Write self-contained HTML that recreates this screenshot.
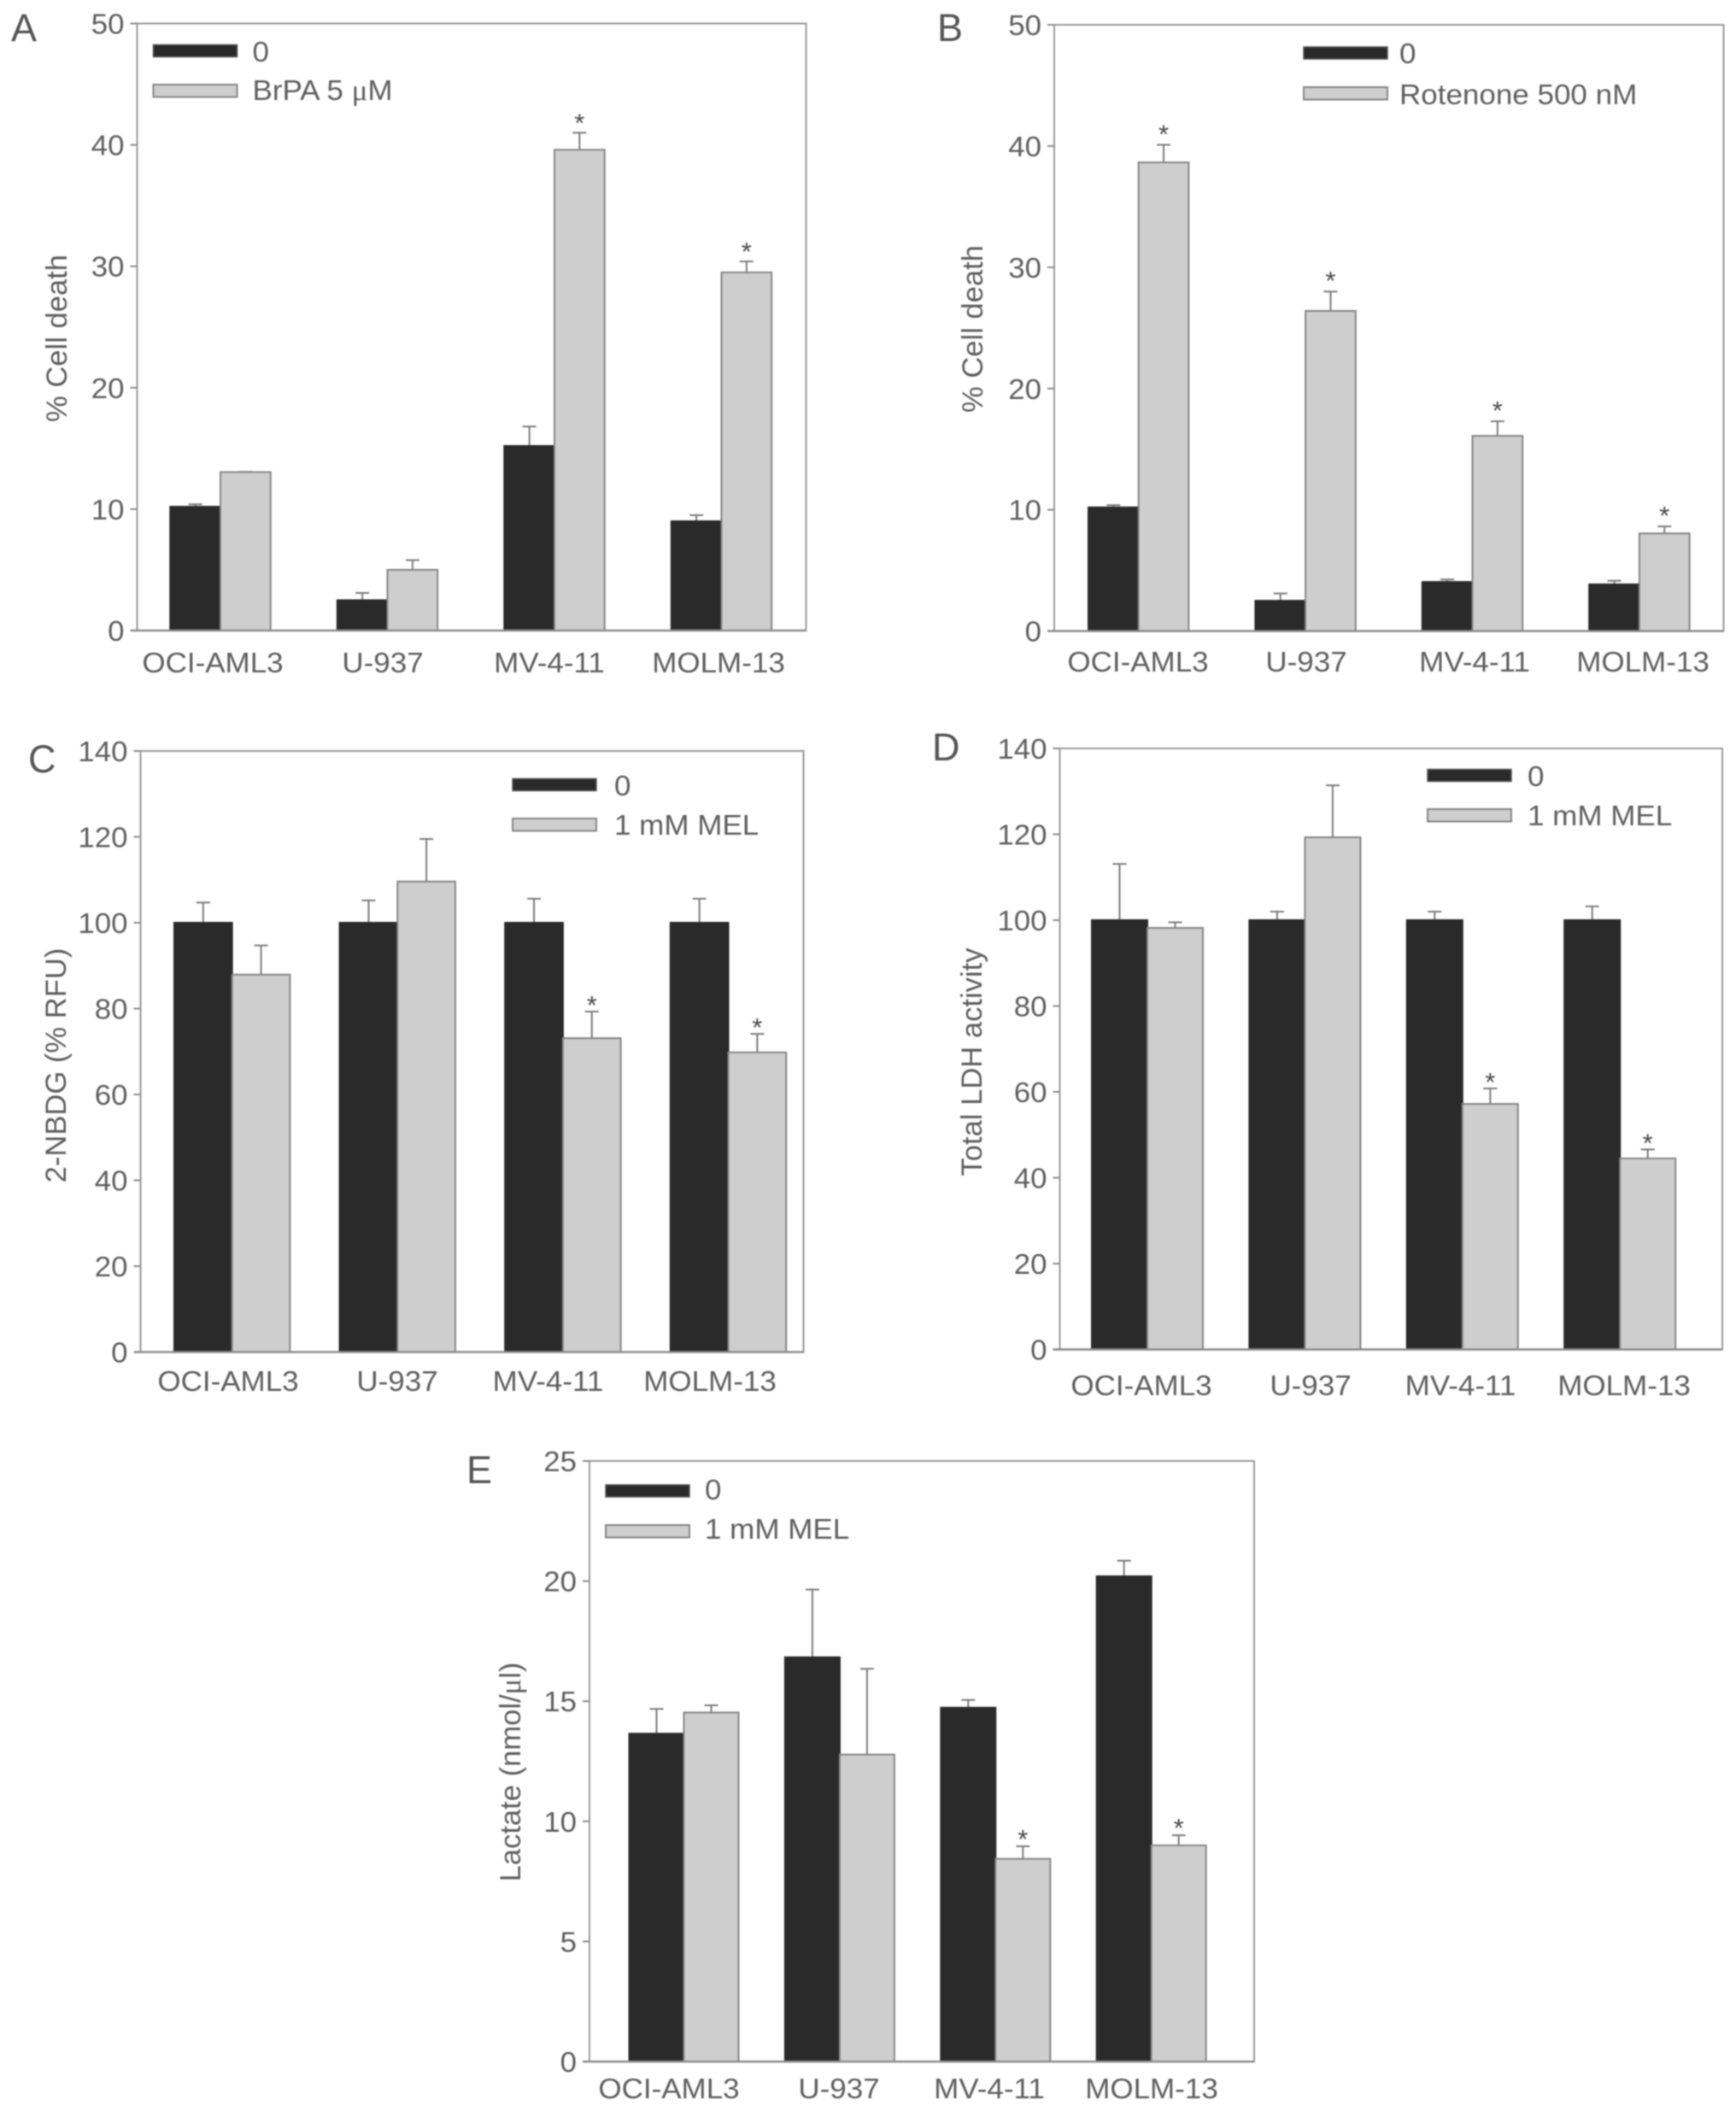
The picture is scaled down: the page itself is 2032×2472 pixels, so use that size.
<!DOCTYPE html>
<html lang="en">
<head>
<meta charset="utf-8">
<title>Cell death, glucose uptake, LDH and lactate bar charts</title>
<style>
html,body{margin:0;padding:0;background:#fff;width:2032px;height:2472px;overflow:hidden}
svg{display:block;filter:blur(0.7px)}
text{font-family:"Liberation Sans",sans-serif;fill:#5f5f5f}
</style>
</head>
<body>
<svg id="figure" xmlns="http://www.w3.org/2000/svg" width="2032" height="2472" viewBox="0 0 2032 2472"></svg>
<script>
const categories = ['OCI-AML3', 'U-937', 'MV-4-11', 'MOLM-13'];

const aControl = [10.2, 2.5, 15.2, 9.0];
const aControlErr = [0.2, 0.6, 1.6, 0.5];
const aTreated = [13.05, 5.0, 39.6, 29.5];
const aTreatedErr = [0.02, 0.8, 1.4, 0.9];
const aStars = [false, false, true, true];
const aTicks = [0, 10, 20, 30, 40, 50];

const bControl = [10.2, 2.5, 4.05, 3.85];
const bControlErr = [0.18, 0.6, 0.2, 0.3];
const bTreated = [38.65, 26.4, 16.1, 8.05];
const bTreatedErr = [1.45, 1.6, 1.2, 0.58];
const bStars = [true, true, true, true];
const bTicks = [0, 10, 20, 30, 40, 50];

const cControl = [100, 100, 100, 100];
const cControlErr = [4.7, 5.2, 5.6, 5.6];
const cTreated = [87.9, 109.6, 73.1, 69.8];
const cTreatedErr = [6.8, 9.9, 6.2, 4.3];
const cStars = [false, false, true, true];
const cTicks = [0, 20, 40, 60, 80, 100, 120, 140];

const dControl = [100, 100, 100, 100];
const dControlErr = [13.1, 2, 2, 3.2];
const dTreated = [98.2, 119.3, 57.2, 44.5];
const dTreatedErr = [1.3, 12.1, 3.6, 2.1];
const dStars = [false, false, true, true];
const dTicks = [0, 20, 40, 60, 80, 100, 120, 140];

const eControl = [13.65, 16.83, 14.73, 20.2];
const eControlErr = [1.03, 2.82, 0.32, 0.65];
const eTreated = [14.53, 12.78, 8.44, 9.0];
const eTreatedErr = [0.3, 3.57, 0.52, 0.42];
const eStars = [false, false, true, true];
const eTicks = [0, 5, 10, 15, 20, 25];

const panels = [
  {id:'a', letter:'A', letterX:13, letterY:48, x0:160.5, x1:943.5, yTop:27.5, yBottom:738, groupStart:199.3, groupStep:195.5, barWidth:58.7, starGap:0,
   ticks:aTicks, control:aControl, controlErr:aControlErr, treated:aTreated, treatedErr:aTreatedErr, stars:aStars,
   labelCenters:[249,448,643,841], labelY:787, title:'% Cell death', titleX:78, titleY:396,
   swatchX:179.5, swatchY1:52.5, swatchY2:99, legendX:295.5, legendY1:72, legendY2:117, legendText:'BrPA 5 ', legendMicro:true},
  {id:'b', letter:'B', letterX:1097, letterY:48, x0:1234, x1:2017.5, yTop:29, yBottom:738.6, groupStart:1274, groupStep:195.4, barWidth:58.7, starGap:-1,
   ticks:bTicks, control:bControl, controlErr:bControlErr, treated:bTreated, treatedErr:bTreatedErr, stars:bStars,
   labelCenters:[1332,1529,1726,1923], labelY:786, title:'% Cell death', titleX:1150, titleY:385,
   swatchX:1526, swatchY1:55, swatchY2:102, legendX:1638, legendY1:74, legendY2:122, legendText:'Rotenone 500 nM'},
  {id:'c', letter:'C', letterX:33, letterY:904, x0:164.5, x1:940.5, yTop:879, yBottom:1582.5, groupStart:204, groupStep:193.6, barWidth:67.7, starGap:4,
   ticks:cTicks, control:cControl, controlErr:cControlErr, treated:cTreated, treatedErr:cTreatedErr, stars:cStars,
   labelCenters:[267,465,641.5,831], labelY:1628, title:'2-NBDG (% RFU)', titleX:77, titleY:1247,
   swatchX:600, swatchY1:911.5, swatchY2:958, legendX:719, legendY1:931, legendY2:977, legendText:'1 mM MEL'},
  {id:'d', letter:'D', letterX:1091, letterY:890, x0:1240.5, x1:2016, yTop:876, yBottom:1579.5, groupStart:1278, groupStep:184.4, barWidth:65, starGap:4,
   ticks:dTicks, control:dControl, controlErr:dControlErr, treated:dTreated, treatedErr:dTreatedErr, stars:dStars,
   labelCenters:[1336,1534,1709.5,1901], labelY:1633, title:'Total LDH activity', titleX:1149, titleY:1243,
   swatchX:1671, swatchY1:900.5, swatchY2:947, legendX:1788, legendY1:920, legendY2:966, legendText:'1 mM MEL'},
  {id:'e', letter:'E', letterX:546, letterY:1736, x0:690, x1:1468, yTop:1710, yBottom:2413, groupStart:736.5, groupStep:182.4, barWidth:64, starGap:3,
   ticks:eTicks, control:eControl, controlErr:eControlErr, treated:eTreated, treatedErr:eTreatedErr, stars:eStars,
   labelCenters:[783,982,1158,1348], labelY:2456, title:'Lactate (nmol/', titleX:609, titleY:2074, titleMicro:true,
   swatchX:709, swatchY1:1738, swatchY2:1785, legendX:825, legendY1:1755, legendY2:1801, legendText:'1 mM MEL'}
];

const CONTROL_FILL = '#2a2a2a';
const TREATED_FILL = '#cecece';
const EDGE = '#868686';
const NS = 'http://www.w3.org/2000/svg';
const figure = document.getElementById('figure');

function make(parent, tag, attrs, content) {
  const node = document.createElementNS(NS, tag);
  for (const key in attrs) node.setAttribute(key, attrs[key]);
  if (content !== undefined) node.textContent = content;
  parent.appendChild(node);
  return node;
}

function drawPanel(p) {
  const yScale = v => p.yBottom - (v / p.ticks[p.ticks.length - 1]) * (p.yBottom - p.yTop);
  const xScale = (i, s) => p.groupStart + i * p.groupStep + s * p.barWidth;

  const group = make(figure, 'g', {});
  
  

  const letter = make(group, 'text', {x:p.letterX, y:p.letterY, 'font-size':45, style:'fill:#555'}, p.letter);
  
  

  const frame = make(group, 'rect', {x:p.x0, y:p.yTop, width:p.x1 - p.x0, height:p.yBottom - p.yTop, fill:'#fff', stroke:'#9a9a9a', 'stroke-width':2});
  
  

  p.ticks.forEach(t => {
    const y = yScale(t);
    const tick = make(group, 'line', {x1:p.x0 - 8, x2:p.x0, y1:y, y2:y, stroke:'#8c8c8c', 'stroke-width':2});
    
    
    const label = make(group, 'text', {transform:'translate(' + (p.x0 - 15) + ',' + (y + 12) + ') scale(1.04,1)', 'font-size':33.5, 'text-anchor':'end'}, String(t));
    
    
  });

  const seriesList = [
    {name:'control', values:p.control, errs:p.controlErr, fill:CONTROL_FILL, stroke:CONTROL_FILL, s:0},
    {name:'treated', values:p.treated, errs:p.treatedErr, fill:TREATED_FILL, stroke:EDGE, s:1}
  ];
  seriesList.forEach(series => {
    categories.forEach((cat, i) => {
      const left = xScale(i, series.s);
      const mid = left + p.barWidth / 2;
      const top = yScale(series.values[i]);
      const errTop = yScale(series.values[i] + series.errs[i]);

      const stem = make(group, 'line', {x1:mid, x2:mid, y1:top, y2:errTop, stroke:'#7c7c7c', 'stroke-width':2});
      
      
      const cap = make(group, 'line', {x1:mid - 8, x2:mid + 8, y1:errTop, y2:errTop, stroke:'#7c7c7c', 'stroke-width':2});
      
      

      const bar = make(group, 'rect', {x:left, y:top, width:p.barWidth, height:yScale(0) - top, fill:series.fill, stroke:series.stroke, 'stroke-width':2});
      
      

      if (series.name === 'treated' && p.stars[i]) {
        const star = make(group, 'text', {x:mid, y:errTop - 1 + p.starGap, 'font-size':31, 'text-anchor':'middle', style:'fill:#4a4a4a'}, '*');
        
        
      }
    });
  });

  const axis = make(group, 'line', {x1:p.x0 - 8, x2:p.x1, y1:p.yBottom, y2:p.yBottom, stroke:'#8c8c8c', 'stroke-width':2.5});
  
  

  categories.forEach((cat, i) => {
    const label = make(group, 'text', {transform:'translate(' + p.labelCenters[i] + ',' + p.labelY + ') scale(1.045,1)', 'font-size':33.5, 'text-anchor':'middle'}, cat);
    
    
  });

  const title = make(group, 'text', {transform:'translate(' + p.titleX + ',' + p.titleY + ') rotate(-90)', 'font-size':34.6, 'text-anchor':'middle'}, p.title);
  
  
  if (p.titleMicro) {
    make(title, 'tspan', {style:'font-family:"Liberation Serif",serif'}, 'μ');
    make(title, 'tspan', {}, 'l)');
  }

  const swatch1 = make(group, 'rect', {x:p.swatchX, y:p.swatchY1, width:98, height:14, fill:CONTROL_FILL, stroke:'#555', 'stroke-width':1.5});
  
  
  const swatch2 = make(group, 'rect', {x:p.swatchX, y:p.swatchY2, width:98, height:14.5, fill:TREATED_FILL, stroke:EDGE, 'stroke-width':2});
  
  

  const legend1 = make(group, 'text', {transform:'translate(' + p.legendX + ',' + p.legendY1 + ') scale(1.045,1)', 'font-size':33.5}, '0');
  
  
  const legend2 = make(group, 'text', {transform:'translate(' + p.legendX + ',' + p.legendY2 + ') scale(1.045,1)', 'font-size':33.5}, p.legendText);
  
  
  if (p.legendMicro) {
    make(legend2, 'tspan', {style:'font-family:"Liberation Serif",serif'}, 'μ');
    make(legend2, 'tspan', {}, 'M');
  }
}

panels.forEach(drawPanel);
</script>
</body>
</html>
